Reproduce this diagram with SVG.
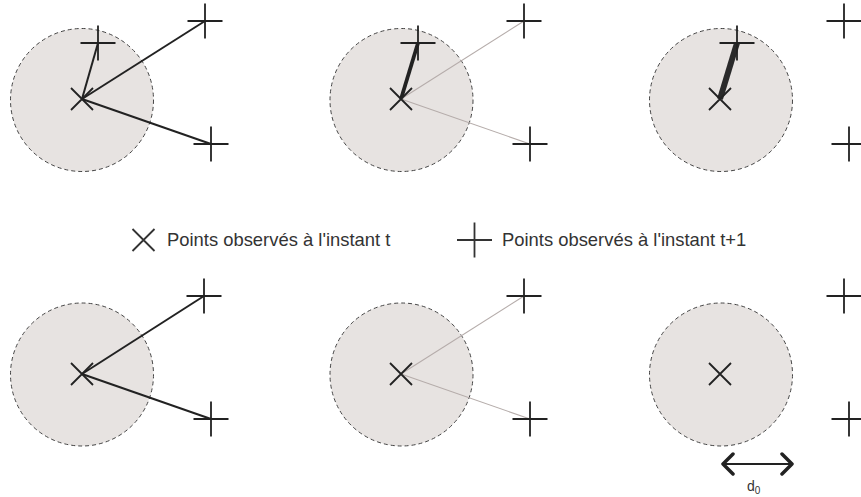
<svg xmlns="http://www.w3.org/2000/svg" width="861" height="497" viewBox="0 0 861 497">
<defs>
<style>
.zone{fill:#e7e3e1;stroke:#444;stroke-width:1;stroke-dasharray:4 3}
.mk{stroke:#222;stroke-width:1.8;fill:none}
.dark{stroke:#222;stroke-width:2;fill:none}
.light{stroke:#b5acaa;stroke-width:1.1;fill:none}
.lbl{font-family:"Liberation Sans",Arial,sans-serif;font-size:18.4px;fill:#333}
</style>
<path id="x" d="M-11,-11L11,11M-11,11L11,-11"/>
<path id="p" d="M-17.5,0H17.5M0,-17.5V17.5"/>
</defs>
<rect width="861" height="497" fill="#fff"/>
<g id="zones">
<circle class="zone" cx="82" cy="100" r="71.5"/>
<circle class="zone" cx="401.5" cy="100" r="71.5"/>
<circle class="zone" cx="721" cy="100" r="71.5"/>
<circle class="zone" cx="82" cy="374.5" r="71.5"/>
<circle class="zone" cx="401.5" cy="374.5" r="71.5"/>
<circle class="zone" cx="721" cy="374.5" r="71.5"/>
</g>
<g id="connectors">
<line class="dark" x1="82" y1="99" x2="98" y2="43"/>
<line class="dark" x1="82" y1="99" x2="205" y2="21"/>
<line class="dark" x1="82" y1="99" x2="211" y2="144"/>
<line class="dark" x1="401" y1="99" x2="418" y2="43" style="stroke-width:3.8"/>
<line class="light" x1="401" y1="99" x2="524" y2="21"/>
<line class="light" x1="401" y1="99" x2="530" y2="144"/>
<line class="dark" x1="720" y1="99" x2="737" y2="43" style="stroke-width:6;stroke:#2a2a2a"/>
<line class="dark" x1="82" y1="374" x2="204" y2="296"/>
<line class="dark" x1="82" y1="374" x2="211" y2="419"/>
<line class="light" x1="401" y1="374" x2="524" y2="296"/>
<line class="light" x1="401" y1="374" x2="530" y2="419"/>
</g>
<g id="points-t">
<use href="#x" class="mk" x="82" y="99"/>
<use href="#x" class="mk" x="401" y="99"/>
<use href="#x" class="mk" x="720" y="99"/>
<use href="#x" class="mk" x="82" y="374"/>
<use href="#x" class="mk" x="401" y="374"/>
<use href="#x" class="mk" x="720" y="374"/>
</g>
<g id="points-t1">
<use href="#p" class="mk" x="98" y="43"/>
<use href="#p" class="mk" x="205" y="21"/>
<use href="#p" class="mk" x="211" y="144"/>
<use href="#p" class="mk" x="418" y="43"/>
<use href="#p" class="mk" x="524" y="21"/>
<use href="#p" class="mk" x="530" y="144"/>
<use href="#p" class="mk" x="737" y="43"/>
<use href="#p" class="mk" x="844" y="21"/>
<use href="#p" class="mk" x="849" y="144"/>
<use href="#p" class="mk" x="204" y="296"/>
<use href="#p" class="mk" x="211" y="419"/>
<use href="#p" class="mk" x="524" y="296"/>
<use href="#p" class="mk" x="530" y="419"/>
<use href="#p" class="mk" x="844" y="296"/>
<use href="#p" class="mk" x="849" y="419"/>
</g>
<g id="legend">
<use href="#x" class="mk" x="143.5" y="240" style="stroke:#333"/>
<text class="lbl" x="167" y="246">Points observés à l'instant t</text>
<use href="#p" class="mk" x="474.5" y="240" style="stroke:#333"/>
<text class="lbl" x="502" y="246">Points observés à l'instant t+1</text>
</g>
<g id="d0">
<line x1="723" y1="464" x2="792" y2="464" stroke="#222" stroke-width="2"/>
<path d="M733,454L723,464L733,474M782,454L792,464L782,474" fill="none" stroke="#222" stroke-width="3.5" stroke-linecap="round" stroke-linejoin="round"/>
<text x="747" y="491" style="font-family:'Liberation Sans',Arial,sans-serif;font-size:14px;fill:#333">d<tspan font-size="10" dy="3">0</tspan></text>
</g>
</svg>
